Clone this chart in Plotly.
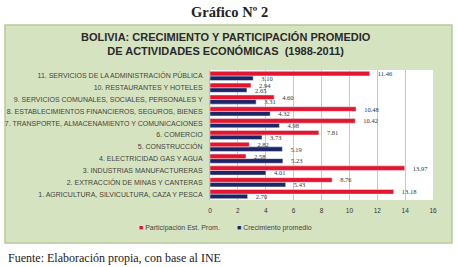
import plotly.graph_objects as go

categories = [
    "1. AGRICULTURA, SILVICULTURA, CAZA Y PESCA",
    "2. EXTRACCIÓN DE MINAS Y CANTERAS",
    "3. INDUSTRIAS MANUFACTURERAS",
    "4. ELECTRICIDAD GAS Y AGUA",
    "5. CONSTRUCCIÓN",
    "6. COMERCIO",
    "7. TRANSPORTE, ALMACENAMIENTO Y COMUNICACIONES",
    "8. ESTABLECIMIENTOS FINANCIEROS, SEGUROS, BIENES",
    "9. SERVICIOS COMUNALES, SOCIALES, PERSONALES Y",
    "10. RESTAURANTES Y HOTELES",
    "11. SERVICIOS DE LA ADMINISTRACIÓN PÚBLICA",
]
participacion = [13.18, 8.76, 13.97, 2.58, 2.82, 7.81, 10.42, 10.48, 4.60, 2.94, 11.46]
crecimiento = [2.70, 5.43, 4.01, 5.23, 5.19, 3.73, 4.98, 4.32, 3.31, 2.65, 3.10]
x_ticks = [0, 2, 4, 6, 8, 10, 12, 14, 16]
series_names = ["Participación Est. Prom.", "Crecimiento promedio"]

W, H = 457, 267
L, R, T, B = 210, 24, 70, 67
pw, ph = W - L - R, H - T - B

def px_x(x):
    return (x - L) / pw

def px_y(y):
    return (H - B - y) / ph

RED = "#E3152F"
BLUE = "#1C2566"
GREEN = "#D6E3C1"
PAD = "\u00a0" * 5

fig = go.Figure()
fig.add_trace(go.Bar(
    y=categories, x=crecimiento, orientation="h", name=series_names[1],
    marker_color=BLUE, texttemplate=PAD + "%{x:.2f}",
    textposition="outside", constraintext="none", cliponaxis=False,
    textfont=dict(size=6.5, color="#333333", family="Liberation Serif"),
))
fig.add_trace(go.Bar(
    y=categories, x=participacion, orientation="h", name=series_names[0],
    marker_color=RED, texttemplate=PAD + "%{x:.2f}",
    textposition="outside", constraintext="none", cliponaxis=False,
    textfont=dict(size=6.5, color="#333333", family="Liberation Serif"),
))

shapes = [
    dict(type="rect", xref="paper", yref="paper", layer="below",
         x0=px_x(5), x1=px_x(452), y0=px_y(243), y1=px_y(25),
         fillcolor=GREEN, line=dict(color="#B7C99C", width=1.5)),
    dict(type="rect", xref="paper", yref="paper", layer="below",
         x0=0, x1=1, y0=0, y1=1, fillcolor="white", line=dict(width=0)),
]

annotations = [
    dict(text="<b>Gráfico Nº 2</b>", xref="paper", yref="paper",
         x=px_x(229), y=px_y(12), xanchor="center", yanchor="middle",
         showarrow=False, font=dict(family="Liberation Serif", size=14.5, color="#222222")),
    dict(text="<b>BOLIVIA: CRECIMIENTO Y PARTICIPACIÓN PROMEDIO<br>DE ACTIVIDADES ECONÓMICAS  (1988-2011)</b>",
         xref="paper", yref="paper", x=px_x(226), y=px_y(43.5), xanchor="center", yanchor="middle",
         showarrow=False, align="center",
         font=dict(family="Liberation Sans", size=11, color="#2a2a2a")),
    dict(text="Fuente: Elaboración propia, con base al INE", xref="paper", yref="paper",
         x=px_x(6), y=px_y(258), xanchor="left", yanchor="middle",
         showarrow=False, font=dict(family="Liberation Serif", size=12, color="#222222")),
    dict(text=f"<span style='color:{RED}'>■</span> {series_names[0]}", xref="paper", yref="paper",
         x=px_x(137), y=px_y(228), xanchor="left", yanchor="middle",
         showarrow=False, font=dict(family="Liberation Sans", size=7, color="#444444")),
    dict(text=f"<span style='color:{BLUE}'>■</span> {series_names[1]}", xref="paper", yref="paper",
         x=px_x(235), y=px_y(228), xanchor="left", yanchor="middle",
         showarrow=False, font=dict(family="Liberation Sans", size=7, color="#444444")),
]

fig.update_layout(
    width=W, height=H,
    margin=dict(l=L, r=R, t=T, b=B, pad=0, autoexpand=False),
    paper_bgcolor="white", plot_bgcolor="white",
    barmode="group", bargap=0.22, bargroupgap=0.0,
    shapes=shapes, annotations=annotations,
    showlegend=False,
    xaxis=dict(range=[0, 16], tickvals=x_ticks, showgrid=True, gridcolor="#C8C8C8", gridwidth=1,
               zeroline=False, showline=False, ticks="outside", ticklen=4,
               tickcolor="rgba(0,0,0,0)",
               tickfont=dict(size=6.5, family="Liberation Sans", color="#333333")),
    yaxis=dict(categoryorder="array", categoryarray=categories, showgrid=False,
               ticks="outside", ticklen=5, tickcolor="rgba(0,0,0,0)",
               showline=True, linecolor="#BFBFBF", linewidth=1,
               tickfont=dict(size=7, family="Liberation Sans", color="#44443a")),
    font=dict(family="Liberation Sans"),
)

fig.write_html("out.html", config={"displayModeBar": False},
               post_script="document.body.style.margin='0';")
